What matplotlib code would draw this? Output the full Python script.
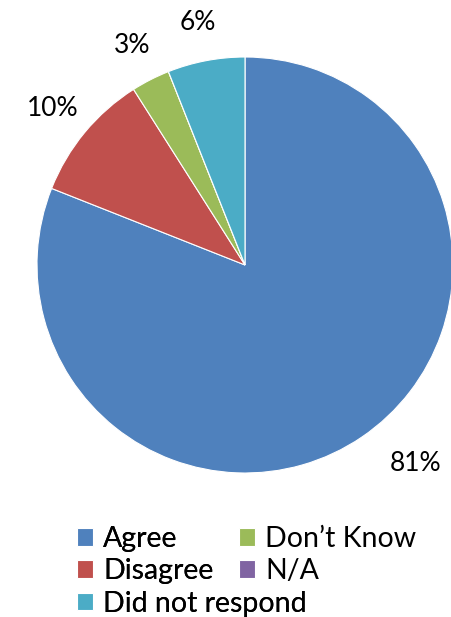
import matplotlib
matplotlib.use('Agg')
import matplotlib.pyplot as plt
import numpy as np

plt.rcParams['font.family'] = ['Lato', 'DejaVu Sans']

# data
categories = ['Agree', 'Disagree', "Don\u2019t Know", 'N/A', 'Did not respond']
values = [81, 10, 3, 0, 6]
colors = ['#4F81BD', '#C0504D', '#9BBB59', '#8064A2', '#4BACC6']

W, H = 451, 617
fig = plt.figure(figsize=(W / 100, H / 100), dpi=100)
ax = fig.add_axes([37 / W, (H - 473) / H, 416 / W, 416 / H])

wedges, texts = ax.pie(values, colors=colors, startangle=90, counterclock=False,
                       labels=[f'{v}%' if v > 0 else '' for v in values],
                       labeldistance=1.2,
                       wedgeprops=dict(edgecolor='white', linewidth=0.8),
                       textprops=dict(fontsize=19, color='black'))
for t in texts:
    t.set_ha('center')
    t.set_va('center_baseline')
# big slice label sits a bit further round, like Excel's best fit
ang = np.deg2rad(-49)
texts[0].set_position((1.25 * np.cos(ang), 1.25 * np.sin(ang)))
ax.set_xlim(-1, 1)
ax.set_ylim(-1, 1)
ax.set_aspect('equal')

# legend: two columns like Excel
col1 = [0, 1, 4]
col2 = [2, 3]
kw = dict(loc='upper left', frameon=False, fontsize=20.5, handlelength=0.57,
          handleheight=0.57, handletextpad=0.35, labelspacing=0.22,
          borderaxespad=0, borderpad=0)
leg1 = fig.legend([wedges[i] for i in col1], [categories[i] for i in col1],
                  bbox_to_anchor=(77 / W, 1 - 526 / H), **kw)
leg2 = fig.legend([wedges[i] for i in col2], [categories[i] for i in col2],
                  bbox_to_anchor=(239 / W, 1 - 526 / H), **kw)
fig.add_artist(leg1)

fig.savefig('out.png', dpi=100)
